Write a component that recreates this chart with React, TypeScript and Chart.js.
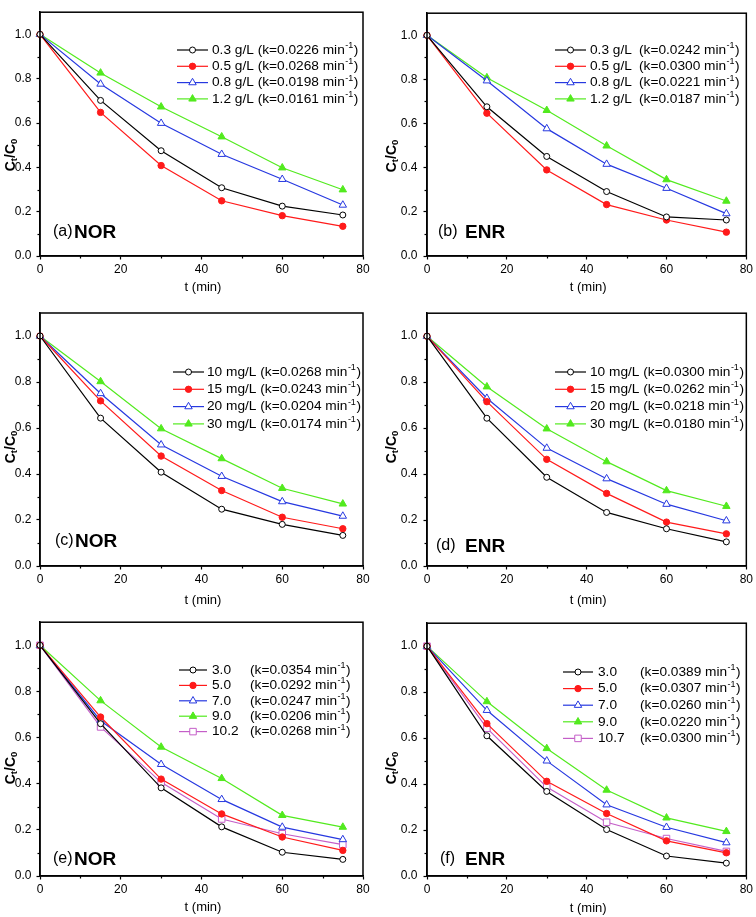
import React, { useEffect, useRef } from 'react';
import { Chart, registerables } from 'chart.js';
Chart.register(...registerables);

// ---------- data ----------
const TIME = [0, 15, 30, 45, 60, 75];

const A_LABELS = ['0.3 g/L', '0.5 g/L', '0.8 g/L', '1.2 g/L'];
const A_K = ['0.0226', '0.0268', '0.0198', '0.0161'];
const A_03 = [1.0, 0.702, 0.475, 0.308, 0.225, 0.185];
const A_05 = [1.0, 0.648, 0.408, 0.249, 0.182, 0.134];
const A_08 = [1.0, 0.776, 0.599, 0.459, 0.346, 0.230];
const A_12 = [1.0, 0.826, 0.673, 0.538, 0.398, 0.299];

const B_LABELS = ['0.3 g/L', '0.5 g/L', '0.8 g/L', '1.2 g/L'];
const B_K = ['0.0242', '0.0300', '0.0221', '0.0187'];
const B_03 = [1.0, 0.676, 0.451, 0.292, 0.177, 0.163];
const B_05 = [1.0, 0.647, 0.390, 0.233, 0.163, 0.108];
const B_08 = [1.0, 0.794, 0.577, 0.416, 0.307, 0.192];
const B_12 = [1.0, 0.808, 0.660, 0.499, 0.346, 0.249];

const C_LABELS = ['10 mg/L', '15 mg/L', '20 mg/L', '30 mg/L'];
const C_K = ['0.0268', '0.0243', '0.0204', '0.0174'];
const C_10 = [1.0, 0.643, 0.408, 0.247, 0.181, 0.133];
const C_15 = [1.0, 0.718, 0.478, 0.328, 0.212, 0.162];
const C_20 = [1.0, 0.750, 0.527, 0.390, 0.280, 0.217];
const C_30 = [1.0, 0.802, 0.597, 0.467, 0.338, 0.270];

const D_LABELS = ['10 mg/L', '15 mg/L', '20 mg/L', '30 mg/L'];
const D_K = ['0.0300', '0.0262', '0.0218', '0.0180'];
const D_10 = [1.0, 0.643, 0.386, 0.233, 0.162, 0.105];
const D_15 = [1.0, 0.715, 0.464, 0.316, 0.191, 0.140];
const D_20 = [1.0, 0.730, 0.513, 0.380, 0.269, 0.197];
const D_30 = [1.0, 0.780, 0.597, 0.454, 0.328, 0.260];

const E_LABELS = ['3.0', '5.0', '7.0', '9.0', '10.2'];
const E_K = ['0.0354', '0.0292', '0.0247', '0.0206', '0.0268'];
const E_30 = [1.0, 0.660, 0.382, 0.213, 0.103, 0.072];
const E_50 = [1.0, 0.689, 0.420, 0.269, 0.169, 0.111];
const E_70 = [1.0, 0.673, 0.484, 0.332, 0.212, 0.158];
const E_90 = [1.0, 0.760, 0.559, 0.423, 0.263, 0.212];
const E_102 = [1.0, 0.646, 0.406, 0.247, 0.183, 0.136];

const F_LABELS = ['3.0', '5.0', '7.0', '9.0', '10.7'];
const F_K = ['0.0389', '0.0307', '0.0260', '0.0220', '0.0300'];
const F_30 = [1.0, 0.610, 0.368, 0.202, 0.087, 0.056];
const F_50 = [1.0, 0.663, 0.412, 0.272, 0.153, 0.101];
const F_70 = [1.0, 0.721, 0.501, 0.310, 0.212, 0.145];
const F_90 = [1.0, 0.759, 0.555, 0.374, 0.253, 0.194];
const F_107 = [1.0, 0.643, 0.387, 0.234, 0.163, 0.107];

const X_TITLE = 't (min)';
const Y_TITLE_PARTS = ['C', 't', '/C', '0'];

// ---------- styles ----------
const FONT = '"Liberation Sans", Arial, Helvetica, sans-serif';
const SERIES_STYLE = [
  { color: '#000000', point: 'circle', fill: false, r: 3 },
  { color: '#ff1a1a', point: 'circle', fill: true, r: 3.2 },
  { color: '#2638e0', point: 'triangle', fill: false, r: 4.3 },
  { color: '#52ea1e', point: 'triangle', fill: true, r: 4.3 },
  { color: '#c45ec8', point: 'rect', fill: false, r: 4.6 },
];

const PANELS = [
  { id: 'a', tag: '(a)', name: 'NOR', labels: A_LABELS, ks: A_K, series: [A_03, A_05, A_08, A_12],
    left: 0, top: 0, w: 378, h: 300, padL: 0, yW: 40, padT: 4, padR: 15, xH: 44, tickPad: 5,
    leg: { x1: 177, x2: 208, tx: 212, kx: null, y0: 50, dy: 16.3 },
    yt: { x: 10, y: 155 }, xt: { y: 287 }, lab: { x1: 53, x2: 74, y: 232 } },
  { id: 'b', tag: '(b)', name: 'ENR', labels: B_LABELS, ks: B_K, series: [B_03, B_05, B_08, B_12],
    left: 378, top: 0, w: 378, h: 300, padL: 0, yW: 49, padT: 4, padR: 8, xH: 44, tickPad: 6,
    leg: { x1: 177, x2: 208, tx: 212, kx: 261, y0: 50, dy: 16.3 },
    yt: { x: 13, y: 156 }, xt: { y: 287 }, lab: { x1: 60, x2: 87, y: 232 } },
  { id: 'c', tag: '(c)', name: 'NOR', labels: C_LABELS, ks: C_K, series: [C_10, C_15, C_20, C_30],
    left: 0, top: 300, w: 378, h: 310, padL: 0, yW: 40, padT: 13, padR: 15, xH: 44, tickPad: 5,
    leg: { x1: 173, x2: 204, tx: 207, kx: null, y0: 72, dy: 17.3 },
    yt: { x: 10, y: 147 }, xt: { y: 300 }, lab: { x1: 55, x2: 75, y: 241 } },
  { id: 'd', tag: '(d)', name: 'ENR', labels: D_LABELS, ks: D_K, series: [D_10, D_15, D_20, D_30],
    left: 378, top: 300, w: 378, h: 310, padL: 0, yW: 49, padT: 13, padR: 8, xH: 44, tickPad: 6,
    leg: { x1: 177, x2: 208, tx: 212, kx: null, y0: 72, dy: 17.3 },
    yt: { x: 13, y: 147 }, xt: { y: 300 }, lab: { x1: 58, x2: 87, y: 246 } },
  { id: 'e', tag: '(e)', name: 'NOR', labels: E_LABELS, ks: E_K, series: [E_30, E_50, E_70, E_90, E_102],
    left: 0, top: 610, w: 378, h: 307, padL: 0, yW: 40, padT: 12, padR: 15, xH: 41, tickPad: 5,
    leg: { x1: 179, x2: 207, tx: 212, kx: 250, y0: 60, dy: 15.4 },
    yt: { x: 10, y: 158 }, xt: { y: 297 }, lab: { x1: 53, x2: 74, y: 249 } },
  { id: 'f', tag: '(f)', name: 'ENR', labels: F_LABELS, ks: F_K, series: [F_30, F_50, F_70, F_90, F_107],
    left: 378, top: 610, w: 378, h: 307, padL: 0, yW: 49, padT: 12, padR: 8, xH: 41, tickPad: 6,
    leg: { x1: 185, x2: 215, tx: 220, kx: 262, y0: 62, dy: 16.6 },
    yt: { x: 13, y: 158 }, xt: { y: 298 }, lab: { x1: 62, x2: 87, y: 249 } },
];

function drawMarker(ctx: CanvasRenderingContext2D, st: any, x: number, y: number) {
  ctx.beginPath();
  const r = st.r;
  if (st.point === 'circle') {
    ctx.arc(x, y, r, 0, Math.PI * 2);
  } else if (st.point === 'triangle') {
    let rad = 0;
    ctx.moveTo(x + Math.sin(rad) * r, y - Math.cos(rad) * r);
    rad += (2 * Math.PI) / 3;
    ctx.lineTo(x + Math.sin(rad) * r, y - Math.cos(rad) * r);
    rad += (2 * Math.PI) / 3;
    ctx.lineTo(x + Math.sin(rad) * r, y - Math.cos(rad) * r);
    ctx.closePath();
  } else {
    const s = Math.SQRT1_2 * r;
    ctx.rect(x - s, y - s, 2 * s, 2 * s);
  }
  ctx.fillStyle = st.fill ? st.color : '#ffffff';
  ctx.fill();
  ctx.lineWidth = 1;
  ctx.strokeStyle = st.color;
  ctx.stroke();
}

function isMajorY(v: number) {
  const n = Math.round(v * 10);
  return n % 2 === 0 && n <= 10;
}

function buildConfig(p: any) {
  const datasets = p.series.map((vals: number[], i: number) => {
    const st = SERIES_STYLE[i];
    return {
      label: p.labels[i],
      data: TIME.map((t, j) => ({ x: t, y: vals[j] })),
      borderColor: st.color,
      backgroundColor: st.fill ? st.color : '#ffffff',
      pointBackgroundColor: st.fill ? st.color : '#ffffff',
      pointBorderColor: st.color,
      pointStyle: st.point,
      pointRadius: st.r,
      pointBorderWidth: 1,
      borderWidth: 1.2,
      tension: 0,
      clip: false,
    };
  });

  const decor = {
    id: 'decor' + p.id,
    afterDraw(chart: any) {
      const ctx: CanvasRenderingContext2D = chart.ctx;
      const ca = chart.chartArea;
      const xs = chart.scales.x;
      const ys = chart.scales.y;
      ctx.save();
      // minor ticks
      ctx.strokeStyle = '#000';
      ctx.lineWidth = 1.2;
      xs.ticks.forEach((t: any) => {
        if (t.value % 20 !== 0) {
          const px = Math.round(xs.getPixelForValue(t.value)) + 0.5;
          ctx.beginPath();
          ctx.moveTo(px, ca.bottom);
          ctx.lineTo(px, ca.bottom + 2.5);
          ctx.stroke();
        }
      });
      ys.ticks.forEach((t: any) => {
        if (!isMajorY(t.value) && t.value < 1.05) {
          const py = Math.round(ys.getPixelForValue(t.value)) + 0.5;
          ctx.beginPath();
          ctx.moveTo(ca.left - 2.5, py);
          ctx.lineTo(ca.left, py);
          ctx.stroke();
        }
      });
      // frame
      ctx.lineWidth = 1.5;
      ctx.strokeRect(ca.left, ca.top, ca.right - ca.left, ca.bottom - ca.top);

      // legend
      const L = p.leg;
      const fs = 13.7;
      p.labels.forEach((lab: string, i: number) => {
        const st = SERIES_STYLE[i];
        const y = L.y0 + i * L.dy;
        ctx.strokeStyle = st.color;
        ctx.lineWidth = 1.2;
        ctx.beginPath();
        ctx.moveTo(L.x1, y);
        ctx.lineTo(L.x2, y);
        ctx.stroke();
        drawMarker(ctx, st, (L.x1 + L.x2) / 2, y);
        ctx.fillStyle = '#000';
        ctx.textBaseline = 'middle';
        ctx.textAlign = 'left';
        ctx.font = `${fs}px ${FONT}`;
        let x = L.tx;
        const kText = '(k=' + p.ks[i] + ' min';
        if (L.kx == null) {
          ctx.fillText(lab + ' ' + kText, x, y);
          x += ctx.measureText(lab + ' ' + kText).width;
        } else {
          ctx.fillText(lab, x, y);
          ctx.fillText(kText, L.kx, y);
          x = L.kx + ctx.measureText(kText).width;
        }
        ctx.font = `9px ${FONT}`;
        ctx.fillText('-1', x + 0.5, y - 4.5);
        x += ctx.measureText('-1').width + 1;
        ctx.font = `${fs}px ${FONT}`;
        ctx.fillText(')', x, y);
      });

      // x title
      ctx.font = `13px ${FONT}`;
      ctx.textAlign = 'center';
      ctx.textBaseline = 'middle';
      ctx.fillStyle = '#000';
      ctx.fillText(X_TITLE, (ca.left + ca.right) / 2 + 1.5, p.xt.y);

      // y title (rotated, with subscripts)
      ctx.save();
      ctx.translate(p.yt.x, p.yt.y);
      ctx.rotate(-Math.PI / 2);
      const big = `bold 14px ${FONT}`;
      const small = `bold 9.5px ${FONT}`;
      const parts = [
        { t: Y_TITLE_PARTS[0], f: big, dy: 0 },
        { t: Y_TITLE_PARTS[1], f: small, dy: 2 },
        { t: Y_TITLE_PARTS[2], f: big, dy: 0 },
        { t: Y_TITLE_PARTS[3], f: small, dy: 2 },
      ];
      let total = 0;
      parts.forEach((q) => { ctx.font = q.f; total += ctx.measureText(q.t).width; });
      let cx = -total / 2;
      ctx.textAlign = 'left';
      ctx.textBaseline = 'alphabetic';
      parts.forEach((q) => {
        ctx.font = q.f;
        ctx.fillText(q.t, cx, 5 + q.dy);
        cx += ctx.measureText(q.t).width;
      });
      ctx.restore();

      // panel label
      ctx.textAlign = 'left';
      ctx.textBaseline = 'middle';
      ctx.font = `16px ${FONT}`;
      ctx.fillText(p.tag, p.lab.x1, p.lab.y);
      ctx.font = `bold 19px ${FONT}`;
      ctx.fillText(p.name, p.lab.x2, p.lab.y + 0.5);
      ctx.restore();
    },
  };

  return {
    type: 'line',
    data: { datasets },
    options: {
      animation: false,
      responsive: false,
      devicePixelRatio: 1,
      events: [],
      layout: { padding: { left: p.padL, top: p.padT, right: p.padR, bottom: 0 } },
      plugins: { legend: { display: false }, tooltip: { enabled: false }, title: { display: false } },
      scales: {
        x: {
          type: 'linear',
          min: 0,
          max: 80,
          ticks: {
            stepSize: 10,
            autoSkip: false,
            maxRotation: 0,
            padding: 3,
            color: '#000',
            font: { family: FONT, size: 12 },
            callback: (v: any) => (Number(v) % 20 === 0 ? String(v) : ''),
          },
          grid: {
            drawOnChartArea: false,
            drawTicks: true,
            tickLength: 3.5,
            tickWidth: 1.2,
            tickColor: (c: any) => (c.tick && c.tick.value % 20 === 0 ? '#000' : 'rgba(0,0,0,0)'),
          },
          border: { display: true, color: '#000', width: 1.5 },
          afterFit: (s: any) => { s.height = p.xH; },
        },
        y: {
          type: 'linear',
          min: 0,
          max: 1.1,
          ticks: {
            stepSize: 0.1,
            autoSkip: false,
            padding: p.tickPad,
            color: '#000',
            font: { family: FONT, size: 12 },
            callback: (v: any) => (isMajorY(Number(v)) ? (Math.round(Number(v) * 10) / 10).toFixed(1) : ''),
          },
          grid: {
            drawOnChartArea: false,
            drawTicks: true,
            tickLength: 3.5,
            tickWidth: 1.2,
            tickColor: (c: any) => (c.tick && isMajorY(c.tick.value) ? '#000' : 'rgba(0,0,0,0)'),
          },
          border: { display: true, color: '#000', width: 1.5 },
          afterFit: (s: any) => { s.width = p.yW; },
        },
      },
    },
    plugins: [decor],
  };
}

function Panel({ p }: { p: any }) {
  const ref = useRef<HTMLCanvasElement>(null);
  useEffect(() => {
    if (!ref.current) return;
    const chart = new Chart(ref.current, buildConfig(p) as any);
    return () => chart.destroy();
  }, [p]);
  return (
    <div style={{ position: 'absolute', left: p.left, top: p.top, width: p.w, height: p.h }}>
      <canvas ref={ref} width={p.w} height={p.h} style={{ display: 'block', width: p.w, height: p.h }} />
    </div>
  );
}

export default function App() {
  return (
    <div style={{ position: 'absolute', left: 0, top: 0, width: 756, height: 917, background: '#fff' }}>
      {PANELS.map((p) => (
        <Panel key={p.id} p={p} />
      ))}
    </div>
  );
}
